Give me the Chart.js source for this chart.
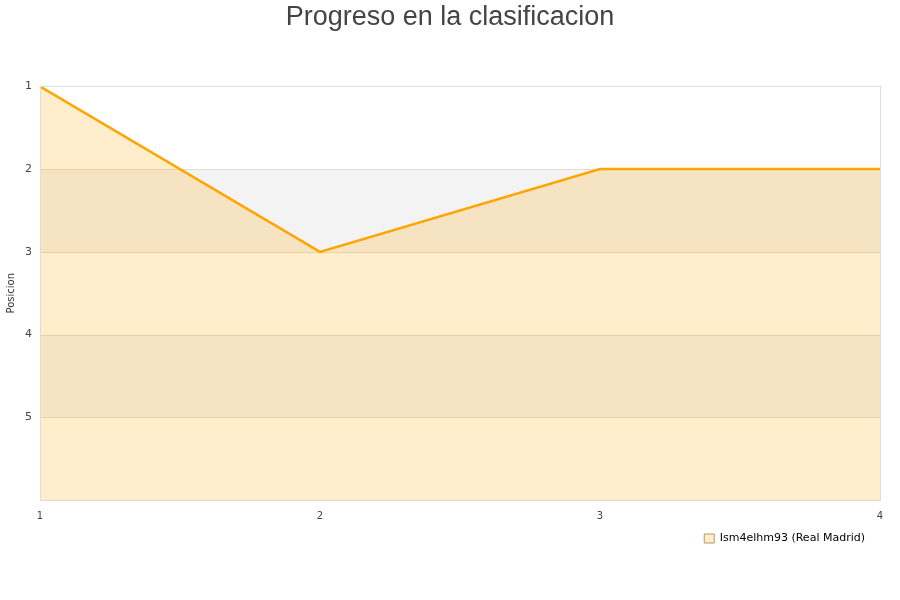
<!DOCTYPE html>
<html>
<head>
<meta charset="utf-8">
<script src="https://cdn.jsdelivr.net/npm/chart.js@4/dist/chart.umd.min.js"></script>
<style>
  body { margin: 0; background: #fff; }
  #wrap { width: 900px; height: 600px; }
</style>
</head>
<body>
<div id="wrap"><canvas id="chart"></canvas></div>
<script>
const jornadas = ["1", "2", "3", "4"];
const posiciones = [1, 3, 2, 2];
const equipo = "Ism4elhm93 (Real Madrid)";
const bandas = [[2, 3], [4, 5]];

const ctx = document.querySelector("#chart").getContext("2d");

// alternate grey bands + plot border
const bandPlugin = {
  id: "bands",
  afterLayout(chart) {
    // nudge title to page centre, legend a bit left
    if (chart.titleBlock) {
      chart.titleBlock.left += 10;
      chart.titleBlock.right += 10;
    }
    if (chart.legend) {
      chart.legend.right -= 5;
    }
  },
  beforeDatasetsDraw(chart) {
    const { ctx, chartArea: a, scales } = chart;
    ctx.save();
    ctx.fillStyle = "#f3f3f3";
    bandas.forEach(([from, to]) => {
      const y1 = scales.y.getPixelForValue(from);
      const y2 = scales.y.getPixelForValue(to);
      ctx.fillRect(a.left, y1, a.right - a.left, y2 - y1);
    });
    ctx.strokeStyle = "#e6dcc8";
    ctx.lineWidth = 1;
    [2, 3, 4, 5].forEach((v) => {
      const y = Math.round(scales.y.getPixelForValue(v)) + 0.5;
      ctx.beginPath();
      ctx.moveTo(a.left, y);
      ctx.lineTo(a.right, y);
      ctx.stroke();
    });
    ctx.restore();
  },
  afterDraw(chart) {
    const { ctx, chartArea: a } = chart;
    ctx.save();
    ctx.strokeStyle = "#dddddd";
    ctx.lineWidth = 1;
    ctx.strokeRect(Math.round(a.left) + 0.5, Math.round(a.top) + 0.5,
      Math.round(a.right - a.left), Math.round(a.bottom - a.top));
    ctx.restore();
  },
};

new Chart(ctx, {
  type: "line",
  data: {
    labels: jornadas,
    datasets: [
      {
        label: equipo,
        data: posiciones,
        borderColor: "#ffa500",
        backgroundColor: "rgba(255, 165, 0, 0.2)",
        borderWidth: 2.5,
        pointRadius: 0,
        tension: 0,
        fill: { value: 6 },
      },
    ],
  },
  options: {
    responsive: true,
    maintainAspectRatio: false,
    animation: false,
    layout: { padding: { left: 0, right: 20, top: 0, bottom: 46 } },
    plugins: {
      title: {
        display: true,
        text: "Progreso en la clasificacion",
        color: "#444",
        font: { family: "Liberation Sans, Arial, sans-serif", size: 27, weight: "normal" },
        padding: { top: 1, bottom: 53 },
      },
      legend: {
        position: "bottom",
        align: "end",
        labels: {
          boxWidth: 10,
          boxHeight: 9,
          color: "#000",
          font: { family: "DejaVu Sans", size: 11 },
          generateLabels(chart) {
            return [{
              text: equipo,
              fillStyle: "rgba(255, 165, 0, 0.2)",
              strokeStyle: "#b89860",
              lineWidth: 1,
              datasetIndex: 0,
            }];
          },
        },
      },
      tooltip: { enabled: false },
    },
    scales: {
      x: {
        offset: false,
        grid: { display: false },
        border: { display: false },
        ticks: { color: "#444", font: { family: "DejaVu Sans", size: 10 }, padding: 2, maxRotation: 0 },
        afterFit(scale) { scale.height = 23; },
      },
      y: {
        reverse: true,
        min: 1,
        max: 6,
        grid: { display: false },
        border: { display: false },
        title: {
          display: true,
          text: "Posicion",
          color: "#333",
          font: { family: "DejaVu Sans", size: 10 },
          padding: { top: 5, bottom: 0 },
        },
        ticks: {
          stepSize: 1,
          color: "#444",
          font: { family: "DejaVu Sans", size: 11 },
          padding: 0,
          callback: (v) => (v === 6 ? "" : v),
        },
        afterFit(scale) { scale.width = 40; },
      },
    },
  },
  plugins: [bandPlugin],
});
</script>
</body>
</html>
